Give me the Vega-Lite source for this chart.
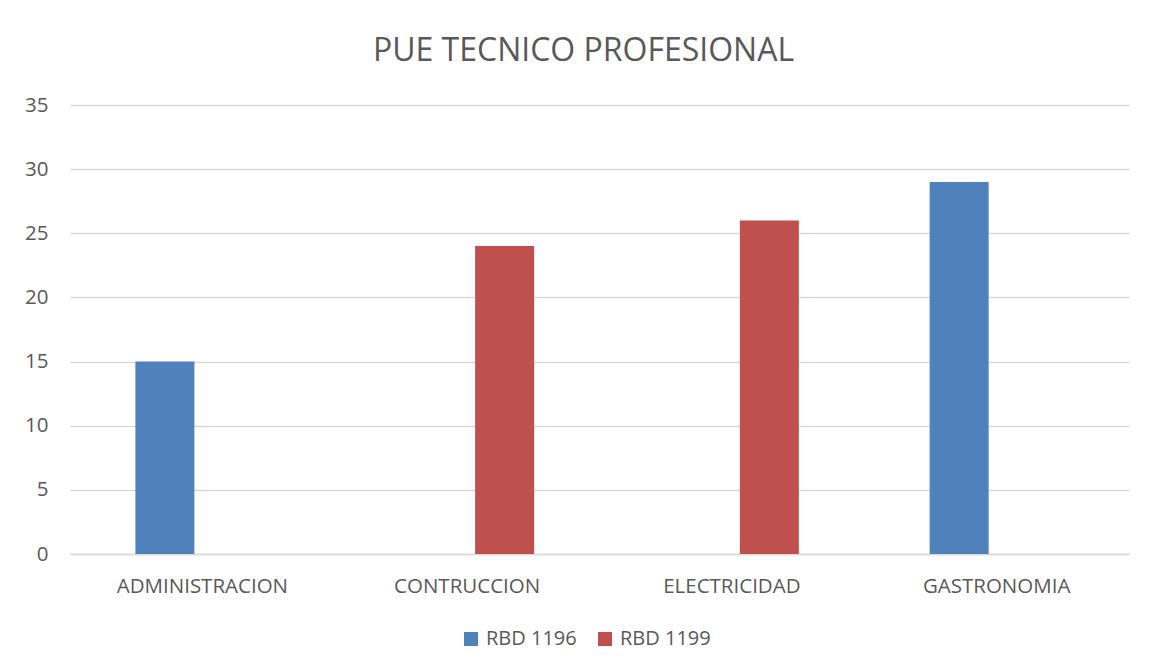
{
  "$schema": "https://vega.github.io/schema/vega-lite/v6.json",
  "width": 1059,
  "height": 449,
  "autosize": {"type": "none"},
  "padding": {"left": 70, "top": 105, "right": 20, "bottom": 118},
  "background": "white",
  "title": {
    "text": "PUE TECNICO PROFESIONAL",
    "fontSize": 32,
    "font": "Open Sans",
    "fontWeight": "normal",
    "color": "#595959",
    "anchor": "middle",
    "offset": 27,
    "dx": -16
  },
  "data": {
    "values": [
      {"categoria": "ADMINISTRACION", "serie": "RBD 1196", "valor": 15},
      {"categoria": "CONTRUCCION", "serie": "RBD 1199", "valor": 24},
      {"categoria": "ELECTRICIDAD", "serie": "RBD 1199", "valor": 26},
      {"categoria": "GASTRONOMIA", "serie": "RBD 1196", "valor": 29}
    ]
  },
  "mark": {"type": "bar"},
  "encoding": {
    "x": {
      "field": "categoria",
      "type": "nominal",
      "sort": ["ADMINISTRACION", "CONTRUCCION", "ELECTRICIDAD", "GASTRONOMIA"],
      "scale": {"paddingInner": 0.494, "paddingOuter": 0.247},
      "axis": {
        "title": null,
        "labelAngle": 0,
        "labelFontSize": 20.5,
        "labelFont": "Open Sans",
        "labelColor": "#595959",
        "labelPadding": 22,
        "ticks": false,
        "domainColor": "#D9D9D9",
        "domainWidth": 1.5
      }
    },
    "xOffset": {
      "field": "serie",
      "type": "nominal",
      "scale": {"domain": ["RBD 1196", "RBD 1199"], "paddingInner": 0.213, "paddingOuter": 0}
    },
    "y": {
      "field": "valor",
      "type": "quantitative",
      "scale": {"domain": [0, 35]},
      "axis": {
        "title": null,
        "values": [0, 5, 10, 15, 20, 25, 30, 35],
        "labelFontSize": 20.5,
        "labelFont": "Open Sans",
        "labelColor": "#595959",
        "labelPadding": 22,
        "ticks": false,
        "domain": false,
        "gridColor": "#D9D9D9",
        "gridWidth": 1.3
      }
    },
    "color": {
      "field": "serie",
      "type": "nominal",
      "scale": {"domain": ["RBD 1196", "RBD 1199"], "range": ["#4F81BD", "#C0504D"]},
      "legend": {
        "title": null,
        "orient": "none",
        "direction": "horizontal",
        "legendX": 391,
        "legendY": 524,
        "symbolType": "square",
        "symbolSize": 196,
        "symbolStrokeWidth": 0,
        "labelFontSize": 20,
        "labelFont": "Open Sans",
        "labelColor": "#595959",
        "labelOffset": 5,
        "columnPadding": 18,
        "padding": 0
      }
    }
  },
  "config": {
    "view": {"stroke": null}
  }
}
